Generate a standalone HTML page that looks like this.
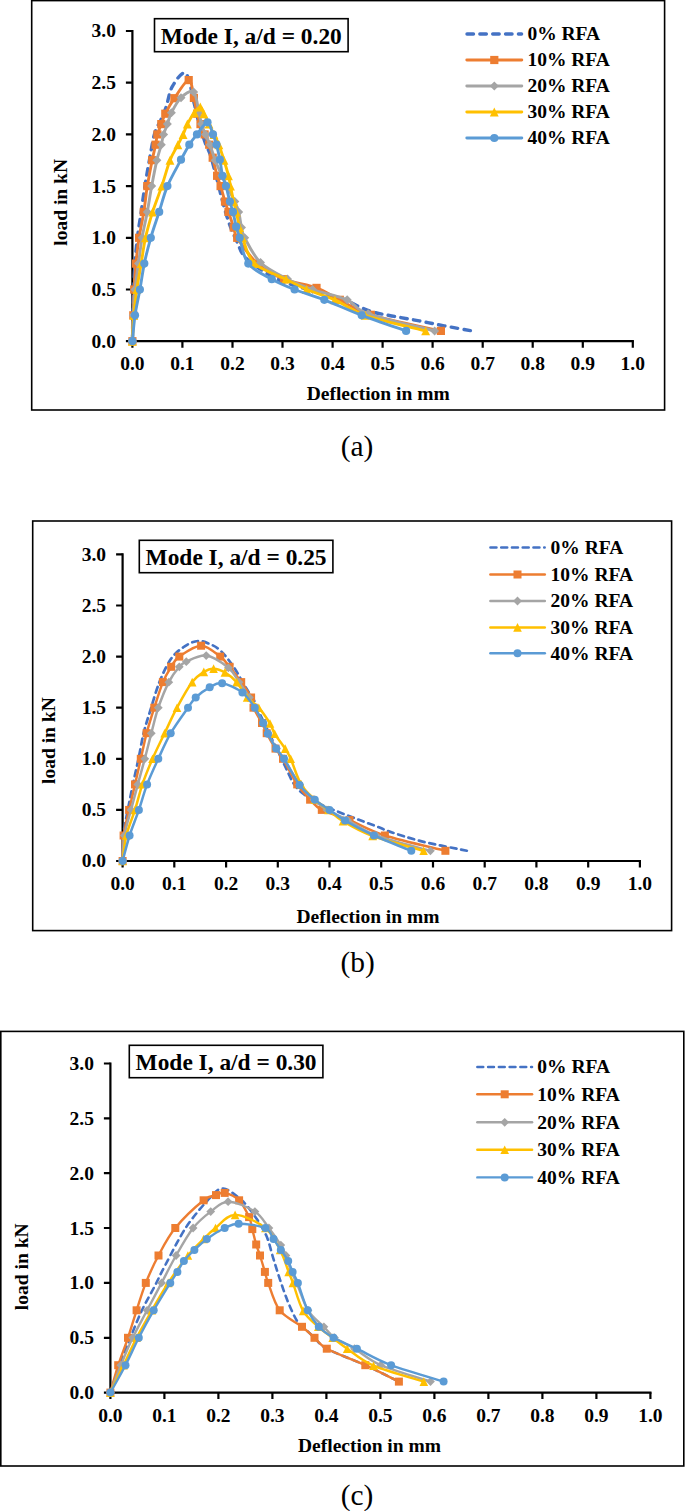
<!DOCTYPE html>
<html lang="en"><head><meta charset="utf-8"><title>Load-deflection curves</title>
<style>html,body{margin:0;padding:0;background:#fff}body{width:685px;height:1511px;overflow:hidden}svg{display:block}text{font-family:"Liberation Serif","Times New Roman",serif;font-weight:bold;fill:#000}</style></head><body>
<svg width="685" height="1511" viewBox="0 0 685 1511">
<rect width="685" height="1511" fill="#fff"/>
<g>
<rect x="31.7" y="0.6" width="632.9" height="409.4" fill="#fff" stroke="#000" stroke-width="1.60"/>
<path d="M132.4 31.0 V341.2 H632.8" fill="none" stroke="#000" stroke-width="2.20" stroke-linecap="square"/>
<path d="M132.4 341.2h-6.5M132.4 289.5h-6.5M132.4 237.8h-6.5M132.4 186.1h-6.5M132.4 134.4h-6.5M132.4 82.7h-6.5M132.4 31.0h-6.5M132.4 341.2v6.5M182.4 341.2v6.5M232.5 341.2v6.5M282.5 341.2v6.5M332.6 341.2v6.5M382.6 341.2v6.5M432.6 341.2v6.5M482.7 341.2v6.5M532.7 341.2v6.5M582.8 341.2v6.5M632.8 341.2v6.5" stroke="#000" stroke-width="2.20" fill="none"/>
<path d="M132.4 341.2C132.5 336.9 132.7 324.0 132.9 315.3C133.1 306.7 133.3 298.1 133.7 289.5C134.0 280.9 134.3 272.3 134.9 263.6C135.5 255.0 136.4 246.4 137.4 237.8C138.4 229.2 139.9 220.6 141.2 211.9C142.4 203.3 143.5 194.7 144.9 186.1C146.3 177.5 147.8 168.9 149.4 160.2C151.0 151.6 152.5 141.2 154.4 134.4C156.3 127.6 159.0 124.3 161.0 119.6C162.9 115.0 164.4 112.0 166.3 106.5C168.2 100.9 169.2 91.8 172.4 86.3C175.7 80.8 182.1 70.5 185.7 73.4C189.4 76.3 192.3 96.2 194.3 103.8C196.3 111.3 196.5 113.7 197.8 118.7C199.1 123.6 200.9 129.3 202.2 133.6C203.5 137.8 204.2 140.1 205.7 144.1C207.2 148.1 208.8 149.8 211.2 157.6C213.5 165.4 217.8 182.8 219.9 190.9C222.0 199.0 222.5 201.4 223.8 206.2C225.1 210.9 226.5 215.4 227.9 219.5C229.2 223.6 230.3 226.7 232.0 230.8C233.7 234.9 236.4 240.2 238.1 244.0C239.8 247.8 239.8 250.0 242.2 253.3C244.6 256.6 246.6 259.3 252.5 263.6C258.4 268.0 268.3 274.9 277.5 279.2C286.7 283.5 296.7 286.1 307.5 289.5C318.4 292.9 332.2 295.7 342.6 299.3C352.9 302.9 360.9 308.2 369.6 311.0C378.2 313.9 386.1 314.7 394.4 316.4C402.7 318.0 411.0 319.3 419.2 320.9C427.5 322.5 435.2 324.1 444.0 325.8C452.8 327.5 467.3 330.0 472.0 330.9" fill="none" stroke="#4472C4" stroke-width="3.40" stroke-linejoin="round" stroke-linecap="round" stroke-dasharray="6.5 6.35"/>
<path d="M132.4 341.2C132.6 336.9 133.0 324.0 133.3 315.3C133.6 306.7 133.7 298.1 134.2 289.5C134.6 280.9 135.1 272.3 135.9 263.6C136.7 255.0 137.7 246.4 139.1 237.8C140.4 229.2 142.4 220.6 143.8 211.9C145.2 203.3 145.9 194.7 147.3 186.1C148.7 177.5 150.8 167.1 152.2 160.2C153.6 153.4 154.7 149.0 155.6 144.7C156.5 140.4 156.5 137.8 157.4 134.4C158.4 131.0 160.0 127.5 161.3 124.1C162.6 120.6 163.1 118.0 165.3 113.7C167.5 109.4 170.5 103.8 174.4 98.2C178.3 92.6 185.5 80.2 188.7 80.1C192.0 80.1 192.5 92.3 193.9 97.9C195.3 103.5 196.1 109.4 197.2 113.7C198.3 118.1 199.3 120.6 200.5 124.1C201.7 127.5 203.2 131.0 204.6 134.4C206.1 137.8 207.9 140.9 209.2 144.7C210.6 148.6 211.4 152.5 212.7 157.7C214.0 162.8 215.7 171.0 217.1 175.8C218.4 180.5 219.3 181.8 220.6 186.1C221.9 190.4 223.7 197.3 225.0 201.6C226.3 205.9 227.0 207.6 228.5 211.9C229.9 216.3 232.3 223.2 233.7 227.5C235.2 231.8 233.3 231.8 237.2 237.8C241.2 243.8 249.7 256.8 257.5 263.6C265.3 270.5 274.2 275.1 284.0 279.2C293.9 283.2 307.3 284.5 316.5 287.9C325.8 291.4 330.7 295.4 339.8 299.8C348.8 304.3 353.9 309.7 370.8 314.8C387.7 320.0 429.3 328.2 440.9 330.9" fill="none" stroke="#ED7D31" stroke-width="2.90" stroke-linejoin="round" stroke-linecap="round"/>
<rect x="128.3" y="337.1" width="8.2" height="8.2" fill="#ED7D31"/>
<rect x="129.2" y="311.2" width="8.2" height="8.2" fill="#ED7D31"/>
<rect x="130.1" y="285.4" width="8.2" height="8.2" fill="#ED7D31"/>
<rect x="131.8" y="259.5" width="8.2" height="8.2" fill="#ED7D31"/>
<rect x="135.0" y="233.7" width="8.2" height="8.2" fill="#ED7D31"/>
<rect x="139.7" y="207.8" width="8.2" height="8.2" fill="#ED7D31"/>
<rect x="143.2" y="182.0" width="8.2" height="8.2" fill="#ED7D31"/>
<rect x="148.1" y="156.1" width="8.2" height="8.2" fill="#ED7D31"/>
<rect x="151.5" y="140.6" width="8.2" height="8.2" fill="#ED7D31"/>
<rect x="153.3" y="130.3" width="8.2" height="8.2" fill="#ED7D31"/>
<rect x="157.2" y="120.0" width="8.2" height="8.2" fill="#ED7D31"/>
<rect x="161.2" y="109.6" width="8.2" height="8.2" fill="#ED7D31"/>
<rect x="170.3" y="94.1" width="8.2" height="8.2" fill="#ED7D31"/>
<rect x="184.6" y="76.0" width="8.2" height="8.2" fill="#ED7D31"/>
<rect x="189.8" y="93.8" width="8.2" height="8.2" fill="#ED7D31"/>
<rect x="193.1" y="109.6" width="8.2" height="8.2" fill="#ED7D31"/>
<rect x="196.4" y="120.0" width="8.2" height="8.2" fill="#ED7D31"/>
<rect x="200.5" y="130.3" width="8.2" height="8.2" fill="#ED7D31"/>
<rect x="205.1" y="140.6" width="8.2" height="8.2" fill="#ED7D31"/>
<rect x="208.6" y="153.6" width="8.2" height="8.2" fill="#ED7D31"/>
<rect x="213.0" y="171.7" width="8.2" height="8.2" fill="#ED7D31"/>
<rect x="216.5" y="182.0" width="8.2" height="8.2" fill="#ED7D31"/>
<rect x="220.9" y="197.5" width="8.2" height="8.2" fill="#ED7D31"/>
<rect x="224.4" y="207.8" width="8.2" height="8.2" fill="#ED7D31"/>
<rect x="229.6" y="223.4" width="8.2" height="8.2" fill="#ED7D31"/>
<rect x="233.1" y="233.7" width="8.2" height="8.2" fill="#ED7D31"/>
<rect x="253.4" y="259.5" width="8.2" height="8.2" fill="#ED7D31"/>
<rect x="279.9" y="275.1" width="8.2" height="8.2" fill="#ED7D31"/>
<rect x="312.4" y="283.8" width="8.2" height="8.2" fill="#ED7D31"/>
<rect x="335.7" y="295.7" width="8.2" height="8.2" fill="#ED7D31"/>
<rect x="366.7" y="310.7" width="8.2" height="8.2" fill="#ED7D31"/>
<rect x="436.8" y="326.8" width="8.2" height="8.2" fill="#ED7D31"/>
<path d="M132.4 341.2C132.6 336.9 133.0 324.0 133.4 315.3C133.8 306.7 134.1 298.1 134.9 289.5C135.8 280.9 137.3 272.3 138.5 263.6C139.7 255.0 140.6 246.4 142.1 237.8C143.5 229.2 145.7 220.6 147.3 211.9C148.9 203.3 150.1 194.7 151.7 186.1C153.3 177.5 155.3 167.1 156.9 160.2C158.5 153.4 160.2 149.0 161.3 144.7C162.4 140.4 162.5 137.8 163.6 134.4C164.6 131.0 166.1 127.7 167.4 124.1C168.7 120.4 169.2 117.1 171.4 112.7C173.7 108.3 177.3 101.1 181.0 97.7C184.7 94.2 190.7 89.5 193.6 92.0C196.6 94.5 197.7 107.3 199.0 112.7C200.3 118.0 200.4 120.4 201.5 124.1C202.5 127.7 204.0 131.0 205.5 134.4C206.9 137.8 208.3 140.4 210.0 144.7C211.6 149.0 213.2 155.1 215.2 160.2C217.2 165.4 220.0 171.5 222.0 175.8C223.9 180.1 224.8 181.8 227.0 186.1C229.1 190.4 232.8 197.3 234.8 201.6C236.7 205.9 237.6 207.6 238.7 211.9C239.9 216.3 240.5 223.2 241.5 227.5C242.5 231.8 241.6 231.9 244.7 237.8C247.9 243.7 253.4 255.7 260.5 262.6C267.6 269.5 278.9 274.7 287.5 279.2C296.2 283.6 302.6 286.1 312.5 289.5C322.5 292.9 338.0 295.8 347.2 299.8C356.5 303.9 353.5 308.6 368.1 313.8C382.7 319.0 423.5 328.0 434.6 330.9" fill="none" stroke="#A5A5A5" stroke-width="2.90" stroke-linejoin="round" stroke-linecap="round"/>
<path d="M132.4 336.7 l4.5 4.5 l-4.5 4.5 l-4.5 -4.5z" fill="#A5A5A5"/>
<path d="M133.4 310.8 l4.5 4.5 l-4.5 4.5 l-4.5 -4.5z" fill="#A5A5A5"/>
<path d="M134.9 285.0 l4.5 4.5 l-4.5 4.5 l-4.5 -4.5z" fill="#A5A5A5"/>
<path d="M138.5 259.1 l4.5 4.5 l-4.5 4.5 l-4.5 -4.5z" fill="#A5A5A5"/>
<path d="M142.1 233.3 l4.5 4.5 l-4.5 4.5 l-4.5 -4.5z" fill="#A5A5A5"/>
<path d="M147.3 207.4 l4.5 4.5 l-4.5 4.5 l-4.5 -4.5z" fill="#A5A5A5"/>
<path d="M151.7 181.6 l4.5 4.5 l-4.5 4.5 l-4.5 -4.5z" fill="#A5A5A5"/>
<path d="M156.9 155.7 l4.5 4.5 l-4.5 4.5 l-4.5 -4.5z" fill="#A5A5A5"/>
<path d="M161.3 140.2 l4.5 4.5 l-4.5 4.5 l-4.5 -4.5z" fill="#A5A5A5"/>
<path d="M163.6 129.9 l4.5 4.5 l-4.5 4.5 l-4.5 -4.5z" fill="#A5A5A5"/>
<path d="M167.4 119.5 l4.5 4.5 l-4.5 4.5 l-4.5 -4.5z" fill="#A5A5A5"/>
<path d="M171.4 108.2 l4.5 4.5 l-4.5 4.5 l-4.5 -4.5z" fill="#A5A5A5"/>
<path d="M181.0 93.2 l4.5 4.5 l-4.5 4.5 l-4.5 -4.5z" fill="#A5A5A5"/>
<path d="M193.6 87.5 l4.5 4.5 l-4.5 4.5 l-4.5 -4.5z" fill="#A5A5A5"/>
<path d="M199.0 108.2 l4.5 4.5 l-4.5 4.5 l-4.5 -4.5z" fill="#A5A5A5"/>
<path d="M201.5 119.5 l4.5 4.5 l-4.5 4.5 l-4.5 -4.5z" fill="#A5A5A5"/>
<path d="M205.5 129.9 l4.5 4.5 l-4.5 4.5 l-4.5 -4.5z" fill="#A5A5A5"/>
<path d="M210.0 140.2 l4.5 4.5 l-4.5 4.5 l-4.5 -4.5z" fill="#A5A5A5"/>
<path d="M215.2 155.7 l4.5 4.5 l-4.5 4.5 l-4.5 -4.5z" fill="#A5A5A5"/>
<path d="M222.0 171.2 l4.5 4.5 l-4.5 4.5 l-4.5 -4.5z" fill="#A5A5A5"/>
<path d="M227.0 181.6 l4.5 4.5 l-4.5 4.5 l-4.5 -4.5z" fill="#A5A5A5"/>
<path d="M234.8 197.1 l4.5 4.5 l-4.5 4.5 l-4.5 -4.5z" fill="#A5A5A5"/>
<path d="M238.7 207.4 l4.5 4.5 l-4.5 4.5 l-4.5 -4.5z" fill="#A5A5A5"/>
<path d="M241.5 222.9 l4.5 4.5 l-4.5 4.5 l-4.5 -4.5z" fill="#A5A5A5"/>
<path d="M244.7 233.3 l4.5 4.5 l-4.5 4.5 l-4.5 -4.5z" fill="#A5A5A5"/>
<path d="M260.5 258.1 l4.5 4.5 l-4.5 4.5 l-4.5 -4.5z" fill="#A5A5A5"/>
<path d="M287.5 274.6 l4.5 4.5 l-4.5 4.5 l-4.5 -4.5z" fill="#A5A5A5"/>
<path d="M312.5 285.0 l4.5 4.5 l-4.5 4.5 l-4.5 -4.5z" fill="#A5A5A5"/>
<path d="M347.2 295.3 l4.5 4.5 l-4.5 4.5 l-4.5 -4.5z" fill="#A5A5A5"/>
<path d="M368.1 309.3 l4.5 4.5 l-4.5 4.5 l-4.5 -4.5z" fill="#A5A5A5"/>
<path d="M434.6 326.4 l4.5 4.5 l-4.5 4.5 l-4.5 -4.5z" fill="#A5A5A5"/>
<path d="M132.4 341.2C132.6 336.9 133.1 324.0 133.8 315.3C134.5 306.7 135.6 298.1 136.8 289.5C138.0 280.9 139.7 272.3 141.2 263.6C142.6 255.0 143.6 246.4 145.5 237.8C147.4 229.2 149.9 220.6 152.6 211.9C155.3 203.3 158.9 194.7 161.8 186.1C164.7 177.5 167.3 167.1 170.0 160.2C172.7 153.4 175.8 149.0 177.9 144.7C180.1 140.4 181.6 137.8 183.1 134.4C184.7 131.0 185.6 127.7 187.4 124.1C189.3 120.4 192.3 115.5 194.4 112.7C196.6 109.8 198.7 106.8 200.3 107.0C201.9 107.2 202.5 110.9 203.9 113.7C205.3 116.6 207.3 120.6 209.0 124.1C210.6 127.5 212.3 131.0 214.0 134.4C215.6 137.8 217.2 140.4 218.9 144.7C220.5 149.0 222.4 155.1 224.0 160.2C225.6 165.4 227.4 171.5 228.5 175.8C229.6 180.1 229.6 181.8 230.5 186.1C231.3 190.4 232.7 197.3 233.7 201.6C234.6 205.9 235.3 207.6 236.3 211.9C237.3 216.3 238.5 223.2 239.5 227.5C240.5 231.8 240.0 231.8 242.5 237.8C245.0 243.8 247.2 256.8 254.5 263.6C261.8 270.5 277.3 274.9 286.0 279.2C294.7 283.5 298.4 286.1 306.5 289.5C314.7 292.9 325.1 295.5 334.9 299.8C344.7 304.1 350.2 310.2 365.3 315.3C380.5 320.5 415.7 328.3 425.7 330.9" fill="none" stroke="#FFC000" stroke-width="2.90" stroke-linejoin="round" stroke-linecap="round"/>
<path d="M132.4 336.8 l4.4 8.9 h-8.9z" fill="#FFC000"/>
<path d="M133.8 310.9 l4.4 8.9 h-8.9z" fill="#FFC000"/>
<path d="M136.8 285.1 l4.4 8.9 h-8.9z" fill="#FFC000"/>
<path d="M141.2 259.2 l4.4 8.9 h-8.9z" fill="#FFC000"/>
<path d="M145.5 233.4 l4.4 8.9 h-8.9z" fill="#FFC000"/>
<path d="M152.6 207.5 l4.4 8.9 h-8.9z" fill="#FFC000"/>
<path d="M161.8 181.7 l4.4 8.9 h-8.9z" fill="#FFC000"/>
<path d="M170.0 155.8 l4.4 8.9 h-8.9z" fill="#FFC000"/>
<path d="M177.9 140.3 l4.4 8.9 h-8.9z" fill="#FFC000"/>
<path d="M183.1 130.0 l4.4 8.9 h-8.9z" fill="#FFC000"/>
<path d="M187.4 119.6 l4.4 8.9 h-8.9z" fill="#FFC000"/>
<path d="M194.4 108.3 l4.4 8.9 h-8.9z" fill="#FFC000"/>
<path d="M200.3 102.6 l4.4 8.9 h-8.9z" fill="#FFC000"/>
<path d="M203.9 109.3 l4.4 8.9 h-8.9z" fill="#FFC000"/>
<path d="M209.0 119.6 l4.4 8.9 h-8.9z" fill="#FFC000"/>
<path d="M214.0 130.0 l4.4 8.9 h-8.9z" fill="#FFC000"/>
<path d="M218.9 140.3 l4.4 8.9 h-8.9z" fill="#FFC000"/>
<path d="M224.0 155.8 l4.4 8.9 h-8.9z" fill="#FFC000"/>
<path d="M228.5 171.3 l4.4 8.9 h-8.9z" fill="#FFC000"/>
<path d="M230.5 181.7 l4.4 8.9 h-8.9z" fill="#FFC000"/>
<path d="M233.7 197.2 l4.4 8.9 h-8.9z" fill="#FFC000"/>
<path d="M236.3 207.5 l4.4 8.9 h-8.9z" fill="#FFC000"/>
<path d="M239.5 223.0 l4.4 8.9 h-8.9z" fill="#FFC000"/>
<path d="M242.5 233.4 l4.4 8.9 h-8.9z" fill="#FFC000"/>
<path d="M254.5 259.2 l4.4 8.9 h-8.9z" fill="#FFC000"/>
<path d="M286.0 274.7 l4.4 8.9 h-8.9z" fill="#FFC000"/>
<path d="M306.5 285.1 l4.4 8.9 h-8.9z" fill="#FFC000"/>
<path d="M334.9 295.4 l4.4 8.9 h-8.9z" fill="#FFC000"/>
<path d="M365.3 310.9 l4.4 8.9 h-8.9z" fill="#FFC000"/>
<path d="M425.7 326.4 l4.4 8.9 h-8.9z" fill="#FFC000"/>
<path d="M132.4 341.2C132.8 336.9 133.8 324.0 135.0 315.3C136.3 306.7 138.4 298.1 139.9 289.5C141.5 280.9 142.5 272.3 144.3 263.6C146.1 255.0 148.3 246.4 150.8 237.8C153.2 229.2 156.4 220.6 159.2 211.9C161.9 203.3 163.8 194.8 167.4 186.1C171.1 177.4 177.4 166.6 181.0 159.7C184.7 152.8 186.6 149.0 189.3 144.7C191.9 140.5 193.9 138.1 197.0 134.4C200.0 130.7 204.8 122.3 207.5 122.3C210.1 122.3 211.5 130.7 213.0 134.4C214.5 138.1 215.3 140.5 216.5 144.7C217.6 149.0 218.9 154.6 219.9 159.7C220.9 164.9 221.5 171.4 222.5 175.8C223.5 180.2 224.7 181.8 226.0 186.1C227.2 190.4 228.7 197.3 229.9 201.6C231.0 205.9 231.9 207.8 233.0 211.9C234.0 216.1 235.1 222.4 236.2 226.7C237.4 231.0 237.7 231.6 239.7 237.8C241.7 244.0 242.9 256.8 248.3 263.6C253.6 270.5 264.0 274.9 271.8 279.2C279.5 283.5 285.9 286.1 294.6 289.5C303.4 292.9 313.1 295.5 324.3 299.8C335.5 304.1 348.1 310.2 361.7 315.3C375.4 320.5 398.7 328.3 406.1 330.9" fill="none" stroke="#5B9BD5" stroke-width="2.90" stroke-linejoin="round" stroke-linecap="round"/>
<circle cx="132.4" cy="341.2" r="4.1" fill="#5B9BD5"/>
<circle cx="135.0" cy="315.3" r="4.1" fill="#5B9BD5"/>
<circle cx="139.9" cy="289.5" r="4.1" fill="#5B9BD5"/>
<circle cx="144.3" cy="263.6" r="4.1" fill="#5B9BD5"/>
<circle cx="150.8" cy="237.8" r="4.1" fill="#5B9BD5"/>
<circle cx="159.2" cy="211.9" r="4.1" fill="#5B9BD5"/>
<circle cx="167.4" cy="186.1" r="4.1" fill="#5B9BD5"/>
<circle cx="181.0" cy="159.7" r="4.1" fill="#5B9BD5"/>
<circle cx="189.3" cy="144.7" r="4.1" fill="#5B9BD5"/>
<circle cx="197.0" cy="134.4" r="4.1" fill="#5B9BD5"/>
<circle cx="207.5" cy="122.3" r="4.1" fill="#5B9BD5"/>
<circle cx="213.0" cy="134.4" r="4.1" fill="#5B9BD5"/>
<circle cx="216.5" cy="144.7" r="4.1" fill="#5B9BD5"/>
<circle cx="219.9" cy="159.7" r="4.1" fill="#5B9BD5"/>
<circle cx="222.5" cy="175.8" r="4.1" fill="#5B9BD5"/>
<circle cx="226.0" cy="186.1" r="4.1" fill="#5B9BD5"/>
<circle cx="229.9" cy="201.6" r="4.1" fill="#5B9BD5"/>
<circle cx="233.0" cy="211.9" r="4.1" fill="#5B9BD5"/>
<circle cx="236.2" cy="226.7" r="4.1" fill="#5B9BD5"/>
<circle cx="239.7" cy="237.8" r="4.1" fill="#5B9BD5"/>
<circle cx="248.3" cy="263.6" r="4.1" fill="#5B9BD5"/>
<circle cx="271.8" cy="279.2" r="4.1" fill="#5B9BD5"/>
<circle cx="294.6" cy="289.5" r="4.1" fill="#5B9BD5"/>
<circle cx="324.3" cy="299.8" r="4.1" fill="#5B9BD5"/>
<circle cx="361.7" cy="315.3" r="4.1" fill="#5B9BD5"/>
<circle cx="406.1" cy="330.9" r="4.1" fill="#5B9BD5"/>
<g font-size="19.5" text-anchor="end">
<text x="115.9" y="347.6">0.0</text>
<text x="115.9" y="295.9">0.5</text>
<text x="115.9" y="244.2">1.0</text>
<text x="115.9" y="192.5">1.5</text>
<text x="115.9" y="140.8">2.0</text>
<text x="115.9" y="89.1">2.5</text>
<text x="115.9" y="37.4">3.0</text>
</g>
<g font-size="19.5" text-anchor="middle">
<text x="132.4" y="370.3">0.0</text>
<text x="182.4" y="370.3">0.1</text>
<text x="232.5" y="370.3">0.2</text>
<text x="282.5" y="370.3">0.3</text>
<text x="332.6" y="370.3">0.4</text>
<text x="382.6" y="370.3">0.5</text>
<text x="432.6" y="370.3">0.6</text>
<text x="482.7" y="370.3">0.7</text>
<text x="532.7" y="370.3">0.8</text>
<text x="582.8" y="370.3">0.9</text>
<text x="632.8" y="370.3">1.0</text>
</g>
<text x="378.2" y="399.5" font-size="19.5" text-anchor="middle">Deflection in mm</text>
<text transform="translate(67.0 202.4) rotate(-90)" font-size="19.5" text-anchor="middle">load in kN</text>
<rect x="154.5" y="18.7" width="193.6" height="33.0" fill="#fff" stroke="#000" stroke-width="1.6"/>
<text x="251.3" y="43.7" font-size="23.4" text-anchor="middle">Mode I, a/d = 0.20</text>
<path d="M467.0 34.0H521.6" stroke="#4472C4" stroke-width="3.40" stroke-linecap="round" stroke-dasharray="6.5 6.35"/>
<text x="527.4" y="40.4" font-size="19.5">0% RFA</text>
<path d="M466.8 60.0H521.8" stroke="#ED7D31" stroke-width="2.90" stroke-linecap="round"/>
<rect x="490.2" y="55.9" width="8.2" height="8.2" fill="#ED7D31"/>
<text x="527.4" y="66.4" font-size="19.5">10% RFA</text>
<path d="M466.8 86.0H521.8" stroke="#A5A5A5" stroke-width="2.90" stroke-linecap="round"/>
<path d="M494.3 81.5 l4.5 4.5 l-4.5 4.5 l-4.5 -4.5z" fill="#A5A5A5"/>
<text x="527.4" y="92.4" font-size="19.5">20% RFA</text>
<path d="M466.8 112.0H521.8" stroke="#FFC000" stroke-width="2.90" stroke-linecap="round"/>
<path d="M494.3 107.6 l4.4 8.9 h-8.9z" fill="#FFC000"/>
<text x="527.4" y="118.4" font-size="19.5">30% RFA</text>
<path d="M466.8 138.0H521.8" stroke="#5B9BD5" stroke-width="2.90" stroke-linecap="round"/>
<circle cx="494.3" cy="138.0" r="4.1" fill="#5B9BD5"/>
<text x="527.4" y="144.4" font-size="19.5">40% RFA</text>
<text x="357.0" y="456.2" font-size="29.4" style="font-weight:normal" text-anchor="middle">(a)</text>
</g>
<g>
<rect x="32.7" y="521.0" width="638.9" height="409.6" fill="#fff" stroke="#000" stroke-width="1.60"/>
<path d="M122.6 554.4 V861.0 H639.9" fill="none" stroke="#000" stroke-width="2.20" stroke-linecap="square"/>
<path d="M122.6 861.0h-6.5M122.6 809.9h-6.5M122.6 758.8h-6.5M122.6 707.7h-6.5M122.6 656.6h-6.5M122.6 605.5h-6.5M122.6 554.4h-6.5M122.6 861.0v6.5M174.3 861.0v6.5M226.1 861.0v6.5M277.8 861.0v6.5M329.5 861.0v6.5M381.2 861.0v6.5M433.0 861.0v6.5M484.7 861.0v6.5M536.4 861.0v6.5M588.2 861.0v6.5M639.9 861.0v6.5" stroke="#000" stroke-width="2.20" fill="none"/>
<path d="M122.6 861.0C122.7 856.7 122.5 844.0 123.4 835.5C124.2 826.9 126.2 818.4 127.8 809.9C129.4 801.4 131.2 792.9 132.9 784.4C134.7 775.8 136.7 767.3 138.5 758.8C140.3 750.3 141.7 741.2 143.6 733.2C145.5 725.3 147.5 719.6 150.1 711.1C152.8 702.5 156.0 690.7 159.5 681.9C163.0 673.2 167.0 664.6 171.2 658.6C175.4 652.7 180.2 649.3 184.7 646.4C189.1 643.4 193.7 641.3 198.0 641.0C202.3 640.6 206.6 642.6 210.5 644.3C214.4 646.1 217.5 647.6 221.4 651.5C225.3 655.4 230.1 661.8 234.2 667.8C238.3 673.9 242.7 682.5 245.9 687.8C249.1 693.1 251.0 694.8 253.5 699.5C256.0 704.3 257.8 709.5 261.0 716.3C264.2 723.1 268.6 732.1 272.6 740.4C276.6 748.7 282.2 760.0 285.0 766.0C287.9 771.9 288.3 773.1 289.7 775.9C291.0 778.7 291.1 780.0 293.2 782.8C295.2 785.6 297.6 789.3 301.9 792.8C306.3 796.3 312.8 800.5 319.2 803.8C325.6 807.1 333.4 809.8 340.5 812.7C347.6 815.5 355.0 818.3 361.6 820.8C368.2 823.4 375.7 826.0 380.2 827.8C384.8 829.5 381.8 829.1 388.9 831.4C395.9 833.7 409.6 838.3 422.6 841.6C435.7 844.8 459.7 849.2 467.1 850.8" fill="none" stroke="#4472C4" stroke-width="2.70" stroke-linejoin="round" stroke-linecap="round" stroke-dasharray="5.9 4.85"/>
<path d="M122.6 861.0C122.8 856.7 122.5 844.0 123.6 835.5C124.7 826.9 127.2 818.4 129.1 809.9C131.0 801.4 133.1 792.9 135.0 784.4C137.0 775.8 138.9 767.3 140.8 758.8C142.7 750.3 144.4 741.8 146.6 733.2C148.9 724.7 151.6 716.2 154.3 707.7C157.0 699.2 160.1 689.0 162.9 682.1C165.8 675.3 168.5 671.1 171.2 666.8C174.0 662.6 174.3 660.1 179.3 656.6C184.3 653.1 194.3 645.7 201.1 645.7C207.9 645.7 215.5 653.1 220.2 656.6C225.0 660.1 226.1 662.6 229.6 666.8C233.1 671.1 237.6 677.0 241.2 682.1C244.8 687.3 249.1 693.2 251.1 697.5C253.1 701.7 251.7 703.4 253.5 707.7C255.3 712.0 259.8 718.8 262.0 723.0C264.2 727.3 264.4 729.0 266.7 733.2C268.9 737.5 272.7 744.3 275.5 748.6C278.2 752.8 279.3 752.8 283.0 758.8C286.6 764.8 292.7 777.5 297.2 784.4C301.8 791.2 306.0 795.4 310.1 799.7C314.2 803.9 315.2 806.5 321.8 809.9C328.3 813.3 339.0 815.9 349.5 820.1C360.0 824.4 368.9 830.3 384.9 835.5C400.9 840.6 435.3 848.2 445.4 850.8" fill="none" stroke="#ED7D31" stroke-width="2.50" stroke-linejoin="round" stroke-linecap="round"/>
<rect x="118.6" y="857.0" width="8.0" height="8.0" fill="#ED7D31"/>
<rect x="119.6" y="831.5" width="8.0" height="8.0" fill="#ED7D31"/>
<rect x="125.1" y="805.9" width="8.0" height="8.0" fill="#ED7D31"/>
<rect x="131.0" y="780.4" width="8.0" height="8.0" fill="#ED7D31"/>
<rect x="136.8" y="754.8" width="8.0" height="8.0" fill="#ED7D31"/>
<rect x="142.6" y="729.2" width="8.0" height="8.0" fill="#ED7D31"/>
<rect x="150.3" y="703.7" width="8.0" height="8.0" fill="#ED7D31"/>
<rect x="158.9" y="678.1" width="8.0" height="8.0" fill="#ED7D31"/>
<rect x="167.2" y="662.8" width="8.0" height="8.0" fill="#ED7D31"/>
<rect x="175.3" y="652.6" width="8.0" height="8.0" fill="#ED7D31"/>
<rect x="197.1" y="641.7" width="8.0" height="8.0" fill="#ED7D31"/>
<rect x="216.2" y="652.6" width="8.0" height="8.0" fill="#ED7D31"/>
<rect x="225.6" y="662.8" width="8.0" height="8.0" fill="#ED7D31"/>
<rect x="237.2" y="678.1" width="8.0" height="8.0" fill="#ED7D31"/>
<rect x="247.1" y="693.5" width="8.0" height="8.0" fill="#ED7D31"/>
<rect x="249.5" y="703.7" width="8.0" height="8.0" fill="#ED7D31"/>
<rect x="258.0" y="719.0" width="8.0" height="8.0" fill="#ED7D31"/>
<rect x="262.7" y="729.2" width="8.0" height="8.0" fill="#ED7D31"/>
<rect x="271.5" y="744.6" width="8.0" height="8.0" fill="#ED7D31"/>
<rect x="279.0" y="754.8" width="8.0" height="8.0" fill="#ED7D31"/>
<rect x="293.2" y="780.4" width="8.0" height="8.0" fill="#ED7D31"/>
<rect x="306.1" y="795.7" width="8.0" height="8.0" fill="#ED7D31"/>
<rect x="317.8" y="805.9" width="8.0" height="8.0" fill="#ED7D31"/>
<rect x="345.5" y="816.1" width="8.0" height="8.0" fill="#ED7D31"/>
<rect x="380.9" y="831.5" width="8.0" height="8.0" fill="#ED7D31"/>
<rect x="441.4" y="846.8" width="8.0" height="8.0" fill="#ED7D31"/>
<path d="M122.6 861.0C122.9 856.7 123.0 844.0 124.4 835.5C125.8 826.9 128.7 818.4 131.0 809.9C133.2 801.4 135.5 792.9 137.8 784.4C140.1 775.8 142.5 767.3 144.8 758.8C147.0 750.3 149.1 741.8 151.3 733.2C153.6 724.7 155.4 716.2 158.3 707.7C161.2 699.2 165.3 689.0 168.8 682.1C172.3 675.3 176.4 670.2 179.3 666.8C182.2 663.4 181.8 663.6 186.3 661.7C190.8 659.8 199.2 654.6 206.2 655.6C213.2 656.6 222.9 663.4 228.4 667.8C233.9 672.3 235.5 677.2 239.0 682.1C242.5 687.1 246.7 693.2 249.3 697.5C252.0 701.7 252.5 703.4 254.8 707.7C257.1 712.0 260.9 718.8 263.1 723.0C265.3 727.3 265.7 729.0 268.0 733.2C270.2 737.5 273.8 744.3 276.5 748.6C279.2 752.8 280.1 752.8 284.0 758.8C287.9 764.8 294.6 777.5 299.6 784.4C304.6 791.2 309.4 795.4 314.0 799.7C318.6 803.9 321.3 806.5 326.9 809.9C332.5 813.3 339.4 815.9 347.6 820.1C355.8 824.4 362.3 830.3 376.1 835.5C389.9 840.6 421.3 848.2 430.4 850.8" fill="none" stroke="#A5A5A5" stroke-width="2.50" stroke-linejoin="round" stroke-linecap="round"/>
<path d="M122.6 856.6 l4.4 4.4 l-4.4 4.4 l-4.4 -4.4z" fill="#A5A5A5"/>
<path d="M124.4 831.1 l4.4 4.4 l-4.4 4.4 l-4.4 -4.4z" fill="#A5A5A5"/>
<path d="M131.0 805.5 l4.4 4.4 l-4.4 4.4 l-4.4 -4.4z" fill="#A5A5A5"/>
<path d="M137.8 780.0 l4.4 4.4 l-4.4 4.4 l-4.4 -4.4z" fill="#A5A5A5"/>
<path d="M144.8 754.4 l4.4 4.4 l-4.4 4.4 l-4.4 -4.4z" fill="#A5A5A5"/>
<path d="M151.3 728.9 l4.4 4.4 l-4.4 4.4 l-4.4 -4.4z" fill="#A5A5A5"/>
<path d="M158.3 703.3 l4.4 4.4 l-4.4 4.4 l-4.4 -4.4z" fill="#A5A5A5"/>
<path d="M168.8 677.8 l4.4 4.4 l-4.4 4.4 l-4.4 -4.4z" fill="#A5A5A5"/>
<path d="M179.3 662.4 l4.4 4.4 l-4.4 4.4 l-4.4 -4.4z" fill="#A5A5A5"/>
<path d="M186.3 657.3 l4.4 4.4 l-4.4 4.4 l-4.4 -4.4z" fill="#A5A5A5"/>
<path d="M206.2 651.2 l4.4 4.4 l-4.4 4.4 l-4.4 -4.4z" fill="#A5A5A5"/>
<path d="M228.4 663.4 l4.4 4.4 l-4.4 4.4 l-4.4 -4.4z" fill="#A5A5A5"/>
<path d="M239.0 677.8 l4.4 4.4 l-4.4 4.4 l-4.4 -4.4z" fill="#A5A5A5"/>
<path d="M249.3 693.1 l4.4 4.4 l-4.4 4.4 l-4.4 -4.4z" fill="#A5A5A5"/>
<path d="M254.8 703.3 l4.4 4.4 l-4.4 4.4 l-4.4 -4.4z" fill="#A5A5A5"/>
<path d="M263.1 718.6 l4.4 4.4 l-4.4 4.4 l-4.4 -4.4z" fill="#A5A5A5"/>
<path d="M268.0 728.9 l4.4 4.4 l-4.4 4.4 l-4.4 -4.4z" fill="#A5A5A5"/>
<path d="M276.5 744.2 l4.4 4.4 l-4.4 4.4 l-4.4 -4.4z" fill="#A5A5A5"/>
<path d="M284.0 754.4 l4.4 4.4 l-4.4 4.4 l-4.4 -4.4z" fill="#A5A5A5"/>
<path d="M299.6 780.0 l4.4 4.4 l-4.4 4.4 l-4.4 -4.4z" fill="#A5A5A5"/>
<path d="M314.0 795.3 l4.4 4.4 l-4.4 4.4 l-4.4 -4.4z" fill="#A5A5A5"/>
<path d="M326.9 805.5 l4.4 4.4 l-4.4 4.4 l-4.4 -4.4z" fill="#A5A5A5"/>
<path d="M347.6 815.7 l4.4 4.4 l-4.4 4.4 l-4.4 -4.4z" fill="#A5A5A5"/>
<path d="M376.1 831.1 l4.4 4.4 l-4.4 4.4 l-4.4 -4.4z" fill="#A5A5A5"/>
<path d="M430.4 846.4 l4.4 4.4 l-4.4 4.4 l-4.4 -4.4z" fill="#A5A5A5"/>
<path d="M122.6 861.0C123.2 856.7 124.3 844.0 126.3 835.5C128.4 826.9 132.3 818.4 135.0 809.9C137.7 801.4 139.5 792.9 142.4 784.4C145.3 775.8 148.8 767.3 152.5 758.8C156.2 750.3 160.5 741.8 164.6 733.2C168.7 724.7 172.4 716.2 177.0 707.7C181.6 699.2 187.7 688.1 192.2 682.1C196.7 676.2 200.2 674.2 203.8 671.9C207.4 669.7 210.1 668.6 213.6 668.7C217.2 668.7 221.1 670.2 224.9 672.4C228.7 674.7 232.9 678.0 236.6 682.1C240.3 686.3 243.4 693.2 247.1 697.5C250.8 701.7 254.9 703.4 258.8 707.7C262.6 712.0 267.3 719.2 270.0 723.5C272.6 727.9 272.2 729.6 274.7 733.8C277.2 737.9 282.5 744.4 285.2 748.6C287.9 752.8 288.1 752.8 290.7 758.8C293.4 764.8 297.0 777.5 301.1 784.4C305.1 791.2 310.5 795.4 315.0 799.7C319.6 803.9 323.8 806.3 328.5 809.9C333.1 813.5 335.6 816.8 343.0 821.1C350.3 825.5 359.2 831.0 372.6 836.0C386.0 840.9 415.1 848.3 423.6 850.8" fill="none" stroke="#FFC000" stroke-width="2.50" stroke-linejoin="round" stroke-linecap="round"/>
<path d="M122.6 856.7 l4.3 8.6 h-8.6z" fill="#FFC000"/>
<path d="M126.3 831.1 l4.3 8.6 h-8.6z" fill="#FFC000"/>
<path d="M135.0 805.6 l4.3 8.6 h-8.6z" fill="#FFC000"/>
<path d="M142.4 780.0 l4.3 8.6 h-8.6z" fill="#FFC000"/>
<path d="M152.5 754.5 l4.3 8.6 h-8.6z" fill="#FFC000"/>
<path d="M164.6 728.9 l4.3 8.6 h-8.6z" fill="#FFC000"/>
<path d="M177.0 703.4 l4.3 8.6 h-8.6z" fill="#FFC000"/>
<path d="M192.2 677.8 l4.3 8.6 h-8.6z" fill="#FFC000"/>
<path d="M203.8 667.6 l4.3 8.6 h-8.6z" fill="#FFC000"/>
<path d="M213.6 664.3 l4.3 8.6 h-8.6z" fill="#FFC000"/>
<path d="M224.9 668.1 l4.3 8.6 h-8.6z" fill="#FFC000"/>
<path d="M236.6 677.8 l4.3 8.6 h-8.6z" fill="#FFC000"/>
<path d="M247.1 693.2 l4.3 8.6 h-8.6z" fill="#FFC000"/>
<path d="M258.8 703.4 l4.3 8.6 h-8.6z" fill="#FFC000"/>
<path d="M270.0 719.2 l4.3 8.6 h-8.6z" fill="#FFC000"/>
<path d="M274.7 729.4 l4.3 8.6 h-8.6z" fill="#FFC000"/>
<path d="M285.2 744.3 l4.3 8.6 h-8.6z" fill="#FFC000"/>
<path d="M290.7 754.5 l4.3 8.6 h-8.6z" fill="#FFC000"/>
<path d="M301.1 780.0 l4.3 8.6 h-8.6z" fill="#FFC000"/>
<path d="M315.0 795.4 l4.3 8.6 h-8.6z" fill="#FFC000"/>
<path d="M328.5 805.6 l4.3 8.6 h-8.6z" fill="#FFC000"/>
<path d="M343.0 816.8 l4.3 8.6 h-8.6z" fill="#FFC000"/>
<path d="M372.6 831.6 l4.3 8.6 h-8.6z" fill="#FFC000"/>
<path d="M423.6 846.5 l4.3 8.6 h-8.6z" fill="#FFC000"/>
<path d="M122.6 861.0C123.8 856.7 126.9 844.0 129.6 835.5C132.3 826.9 136.0 818.4 138.9 809.9C141.8 801.4 143.9 792.9 147.1 784.4C150.4 775.8 154.4 767.3 158.3 758.8C162.2 750.3 165.8 741.8 170.7 733.2C175.7 724.7 183.8 713.7 188.0 707.7C192.2 701.7 192.1 700.9 195.7 697.5C199.3 694.1 205.3 689.6 209.7 687.3C214.1 684.9 216.6 682.3 222.1 683.2C227.5 684.0 236.9 688.3 242.4 692.4C247.8 696.5 251.3 702.6 254.8 707.7C258.2 712.8 260.9 718.7 263.1 723.0C265.3 727.4 265.7 729.5 267.9 733.8C270.0 738.0 273.5 744.4 276.2 748.6C278.9 752.8 280.1 752.8 284.0 758.8C287.9 764.8 294.5 778.0 299.6 784.9C304.7 791.7 309.8 795.5 314.8 799.7C319.8 803.9 324.5 806.4 329.5 809.9C334.6 813.4 337.6 816.4 345.0 820.6C352.4 824.9 362.9 830.4 373.9 835.5C384.9 840.5 405.0 848.2 411.3 850.8" fill="none" stroke="#5B9BD5" stroke-width="2.50" stroke-linejoin="round" stroke-linecap="round"/>
<circle cx="122.6" cy="861.0" r="4.0" fill="#5B9BD5"/>
<circle cx="129.6" cy="835.5" r="4.0" fill="#5B9BD5"/>
<circle cx="138.9" cy="809.9" r="4.0" fill="#5B9BD5"/>
<circle cx="147.1" cy="784.4" r="4.0" fill="#5B9BD5"/>
<circle cx="158.3" cy="758.8" r="4.0" fill="#5B9BD5"/>
<circle cx="170.7" cy="733.2" r="4.0" fill="#5B9BD5"/>
<circle cx="188.0" cy="707.7" r="4.0" fill="#5B9BD5"/>
<circle cx="195.7" cy="697.5" r="4.0" fill="#5B9BD5"/>
<circle cx="209.7" cy="687.3" r="4.0" fill="#5B9BD5"/>
<circle cx="222.1" cy="683.2" r="4.0" fill="#5B9BD5"/>
<circle cx="242.4" cy="692.4" r="4.0" fill="#5B9BD5"/>
<circle cx="254.8" cy="707.7" r="4.0" fill="#5B9BD5"/>
<circle cx="263.1" cy="723.0" r="4.0" fill="#5B9BD5"/>
<circle cx="267.9" cy="733.8" r="4.0" fill="#5B9BD5"/>
<circle cx="276.2" cy="748.6" r="4.0" fill="#5B9BD5"/>
<circle cx="284.0" cy="758.8" r="4.0" fill="#5B9BD5"/>
<circle cx="299.6" cy="784.9" r="4.0" fill="#5B9BD5"/>
<circle cx="314.8" cy="799.7" r="4.0" fill="#5B9BD5"/>
<circle cx="329.5" cy="809.9" r="4.0" fill="#5B9BD5"/>
<circle cx="345.0" cy="820.6" r="4.0" fill="#5B9BD5"/>
<circle cx="373.9" cy="835.5" r="4.0" fill="#5B9BD5"/>
<circle cx="411.3" cy="850.8" r="4.0" fill="#5B9BD5"/>
<g font-size="19.5" text-anchor="end">
<text x="106.1" y="867.4">0.0</text>
<text x="106.1" y="816.3">0.5</text>
<text x="106.1" y="765.2">1.0</text>
<text x="106.1" y="714.1">1.5</text>
<text x="106.1" y="663.0">2.0</text>
<text x="106.1" y="611.9">2.5</text>
<text x="106.1" y="560.8">3.0</text>
</g>
<g font-size="19.5" text-anchor="middle">
<text x="122.6" y="889.5">0.0</text>
<text x="174.3" y="889.5">0.1</text>
<text x="226.1" y="889.5">0.2</text>
<text x="277.8" y="889.5">0.3</text>
<text x="329.5" y="889.5">0.4</text>
<text x="381.2" y="889.5">0.5</text>
<text x="433.0" y="889.5">0.6</text>
<text x="484.7" y="889.5">0.7</text>
<text x="536.4" y="889.5">0.8</text>
<text x="588.2" y="889.5">0.9</text>
<text x="639.9" y="889.5">1.0</text>
</g>
<text x="368.0" y="923.4" font-size="19.5" text-anchor="middle">Deflection in mm</text>
<text transform="translate(54.5 740.6) rotate(-90)" font-size="19.5" text-anchor="middle">load in kN</text>
<rect x="139.3" y="540.3" width="193.6" height="32.4" fill="#fff" stroke="#000" stroke-width="1.6"/>
<text x="236.1" y="564.7" font-size="23.4" text-anchor="middle">Mode I, a/d = 0.25</text>
<path d="M490.5 547.5H544.6" stroke="#4472C4" stroke-width="2.70" stroke-linecap="round" stroke-dasharray="5.9 4.85"/>
<text x="550.6" y="553.9" font-size="19.5">0% RFA</text>
<path d="M490.4 574.5H544.8" stroke="#ED7D31" stroke-width="2.50" stroke-linecap="round"/>
<rect x="513.5" y="570.5" width="8.0" height="8.0" fill="#ED7D31"/>
<text x="550.6" y="580.9" font-size="19.5">10% RFA</text>
<path d="M490.4 601.0H544.8" stroke="#A5A5A5" stroke-width="2.50" stroke-linecap="round"/>
<path d="M517.5 596.6 l4.4 4.4 l-4.4 4.4 l-4.4 -4.4z" fill="#A5A5A5"/>
<text x="550.6" y="607.4" font-size="19.5">20% RFA</text>
<path d="M490.4 627.4H544.8" stroke="#FFC000" stroke-width="2.50" stroke-linecap="round"/>
<path d="M517.5 623.1 l4.3 8.6 h-8.6z" fill="#FFC000"/>
<text x="550.6" y="633.8" font-size="19.5">30% RFA</text>
<path d="M490.4 653.3H544.8" stroke="#5B9BD5" stroke-width="2.50" stroke-linecap="round"/>
<circle cx="517.5" cy="653.3" r="4.0" fill="#5B9BD5"/>
<text x="550.6" y="659.7" font-size="19.5">40% RFA</text>
<text x="357.7" y="972.0" font-size="29.4" style="font-weight:normal" text-anchor="middle">(b)</text>
</g>
<g>
<rect x="0.8" y="1031.4" width="683.0" height="434.6" fill="#fff" stroke="#000" stroke-width="1.60"/>
<path d="M110.4 1063.5 V1392.6 H650.4" fill="none" stroke="#000" stroke-width="2.20" stroke-linecap="square"/>
<path d="M110.4 1392.6h-6.5M110.4 1337.8h-6.5M110.4 1282.9h-6.5M110.4 1228.0h-6.5M110.4 1173.2h-6.5M110.4 1118.3h-6.5M110.4 1063.5h-6.5M110.4 1392.6v6.5M164.4 1392.6v6.5M218.4 1392.6v6.5M272.4 1392.6v6.5M326.4 1392.6v6.5M380.4 1392.6v6.5M434.4 1392.6v6.5M488.4 1392.6v6.5M542.4 1392.6v6.5M596.4 1392.6v6.5M650.4 1392.6v6.5" stroke="#000" stroke-width="2.20" fill="none"/>
<path d="M110.4 1392.6C111.9 1388.0 116.3 1374.3 119.6 1365.2C122.9 1356.0 126.7 1346.9 130.4 1337.8C134.1 1328.6 137.8 1319.0 141.9 1310.3C146.0 1301.6 151.1 1293.2 155.0 1285.6C158.9 1278.0 160.2 1274.5 165.5 1264.7C170.7 1254.9 179.1 1237.8 186.5 1226.6C194.0 1215.5 204.1 1204.0 210.2 1197.7C216.3 1191.3 218.0 1188.1 223.3 1188.6C228.5 1189.0 236.3 1195.4 241.7 1200.3C247.2 1205.2 251.8 1211.8 255.9 1217.7C260.0 1223.7 263.6 1229.5 266.5 1236.1C269.3 1242.6 270.8 1250.1 272.9 1257.1C275.1 1264.1 277.1 1270.9 279.5 1278.1C281.9 1285.3 284.6 1293.4 287.4 1300.5C290.3 1307.5 293.7 1315.5 296.6 1320.2C299.5 1324.9 301.8 1325.5 304.8 1328.4C307.8 1331.4 310.8 1334.4 314.5 1337.8C318.2 1341.1 318.4 1344.1 326.8 1348.7C335.3 1353.3 353.3 1359.7 365.3 1365.2C377.3 1370.7 393.3 1378.9 398.9 1381.6" fill="none" stroke="#4472C4" stroke-width="2.60" stroke-linejoin="round" stroke-linecap="round" stroke-dasharray="5.8 4.95"/>
<path d="M110.4 1392.6C111.7 1388.0 115.3 1374.3 118.2 1365.2C121.2 1356.0 124.9 1346.9 128.0 1337.8C131.0 1328.6 133.7 1319.5 136.6 1310.3C139.6 1301.2 142.2 1292.0 145.8 1282.9C149.5 1273.8 153.6 1264.6 158.5 1255.5C163.4 1246.3 167.7 1237.2 175.3 1228.0C182.8 1218.9 196.8 1205.8 203.6 1200.3C210.4 1194.8 212.5 1196.4 216.0 1195.1C219.5 1193.9 220.8 1192.1 224.7 1192.9C228.5 1193.8 235.0 1196.3 239.1 1200.3C243.2 1204.3 246.9 1212.3 249.1 1217.1C251.3 1221.9 251.1 1224.6 252.3 1229.1C253.4 1233.7 254.9 1240.1 256.2 1244.5C257.5 1248.9 258.5 1250.9 260.0 1255.5C261.4 1260.0 263.6 1267.4 264.9 1271.9C266.3 1276.5 265.7 1276.5 268.2 1282.9C270.6 1289.3 274.1 1303.0 279.7 1310.3C285.3 1317.6 296.2 1322.2 302.0 1326.8C307.8 1331.4 310.4 1334.1 314.5 1337.8C318.7 1341.4 318.4 1344.1 326.8 1348.7C335.3 1353.3 353.3 1359.7 365.3 1365.2C377.3 1370.7 393.3 1378.9 398.9 1381.6" fill="none" stroke="#ED7D31" stroke-width="2.40" stroke-linejoin="round" stroke-linecap="round"/>
<rect x="106.4" y="1388.6" width="8.0" height="8.0" fill="#ED7D31"/>
<rect x="114.2" y="1361.2" width="8.0" height="8.0" fill="#ED7D31"/>
<rect x="124.0" y="1333.8" width="8.0" height="8.0" fill="#ED7D31"/>
<rect x="132.6" y="1306.3" width="8.0" height="8.0" fill="#ED7D31"/>
<rect x="141.8" y="1278.9" width="8.0" height="8.0" fill="#ED7D31"/>
<rect x="154.5" y="1251.5" width="8.0" height="8.0" fill="#ED7D31"/>
<rect x="171.3" y="1224.0" width="8.0" height="8.0" fill="#ED7D31"/>
<rect x="199.6" y="1196.3" width="8.0" height="8.0" fill="#ED7D31"/>
<rect x="212.0" y="1191.1" width="8.0" height="8.0" fill="#ED7D31"/>
<rect x="220.7" y="1188.9" width="8.0" height="8.0" fill="#ED7D31"/>
<rect x="235.1" y="1196.3" width="8.0" height="8.0" fill="#ED7D31"/>
<rect x="245.1" y="1213.1" width="8.0" height="8.0" fill="#ED7D31"/>
<rect x="248.3" y="1225.1" width="8.0" height="8.0" fill="#ED7D31"/>
<rect x="252.2" y="1240.5" width="8.0" height="8.0" fill="#ED7D31"/>
<rect x="256.0" y="1251.5" width="8.0" height="8.0" fill="#ED7D31"/>
<rect x="260.9" y="1267.9" width="8.0" height="8.0" fill="#ED7D31"/>
<rect x="264.2" y="1278.9" width="8.0" height="8.0" fill="#ED7D31"/>
<rect x="275.7" y="1306.3" width="8.0" height="8.0" fill="#ED7D31"/>
<rect x="298.0" y="1322.8" width="8.0" height="8.0" fill="#ED7D31"/>
<rect x="310.5" y="1333.8" width="8.0" height="8.0" fill="#ED7D31"/>
<rect x="322.8" y="1344.7" width="8.0" height="8.0" fill="#ED7D31"/>
<rect x="361.3" y="1361.2" width="8.0" height="8.0" fill="#ED7D31"/>
<rect x="394.9" y="1377.6" width="8.0" height="8.0" fill="#ED7D31"/>
<path d="M110.4 1392.6C112.1 1388.0 117.2 1374.3 120.9 1365.2C124.6 1356.0 128.3 1346.9 132.7 1337.8C137.1 1328.6 142.3 1319.5 147.1 1310.3C151.9 1301.2 156.8 1292.0 161.6 1282.9C166.4 1273.8 170.8 1264.6 176.1 1255.5C181.3 1246.3 187.4 1235.4 193.1 1228.0C198.9 1220.7 204.9 1216.0 210.7 1211.6C216.6 1207.2 220.8 1201.7 228.1 1201.7C235.5 1201.7 248.1 1207.2 254.9 1211.6C261.6 1216.0 264.6 1222.5 268.9 1228.0C273.2 1233.6 278.0 1240.5 280.8 1245.1C283.7 1249.6 284.2 1251.0 285.9 1255.5C287.6 1260.0 289.5 1267.4 291.3 1271.9C293.1 1276.5 293.9 1276.5 296.7 1282.9C299.5 1289.3 303.5 1303.0 308.0 1310.3C312.6 1317.6 319.5 1322.2 323.9 1326.8C328.3 1331.4 329.4 1334.1 334.5 1337.8C339.6 1341.4 346.8 1344.1 354.5 1348.7C362.2 1353.3 368.2 1359.7 380.8 1365.2C393.5 1370.7 422.2 1378.9 430.5 1381.6" fill="none" stroke="#A5A5A5" stroke-width="2.40" stroke-linejoin="round" stroke-linecap="round"/>
<path d="M110.4 1388.2 l4.4 4.4 l-4.4 4.4 l-4.4 -4.4z" fill="#A5A5A5"/>
<path d="M120.9 1360.8 l4.4 4.4 l-4.4 4.4 l-4.4 -4.4z" fill="#A5A5A5"/>
<path d="M132.7 1333.3 l4.4 4.4 l-4.4 4.4 l-4.4 -4.4z" fill="#A5A5A5"/>
<path d="M147.1 1305.9 l4.4 4.4 l-4.4 4.4 l-4.4 -4.4z" fill="#A5A5A5"/>
<path d="M161.6 1278.5 l4.4 4.4 l-4.4 4.4 l-4.4 -4.4z" fill="#A5A5A5"/>
<path d="M176.1 1251.1 l4.4 4.4 l-4.4 4.4 l-4.4 -4.4z" fill="#A5A5A5"/>
<path d="M193.1 1223.6 l4.4 4.4 l-4.4 4.4 l-4.4 -4.4z" fill="#A5A5A5"/>
<path d="M210.7 1207.2 l4.4 4.4 l-4.4 4.4 l-4.4 -4.4z" fill="#A5A5A5"/>
<path d="M228.1 1197.3 l4.4 4.4 l-4.4 4.4 l-4.4 -4.4z" fill="#A5A5A5"/>
<path d="M254.9 1207.2 l4.4 4.4 l-4.4 4.4 l-4.4 -4.4z" fill="#A5A5A5"/>
<path d="M268.9 1223.6 l4.4 4.4 l-4.4 4.4 l-4.4 -4.4z" fill="#A5A5A5"/>
<path d="M280.8 1240.7 l4.4 4.4 l-4.4 4.4 l-4.4 -4.4z" fill="#A5A5A5"/>
<path d="M285.9 1251.1 l4.4 4.4 l-4.4 4.4 l-4.4 -4.4z" fill="#A5A5A5"/>
<path d="M291.3 1267.5 l4.4 4.4 l-4.4 4.4 l-4.4 -4.4z" fill="#A5A5A5"/>
<path d="M296.7 1278.5 l4.4 4.4 l-4.4 4.4 l-4.4 -4.4z" fill="#A5A5A5"/>
<path d="M308.0 1305.9 l4.4 4.4 l-4.4 4.4 l-4.4 -4.4z" fill="#A5A5A5"/>
<path d="M323.9 1322.4 l4.4 4.4 l-4.4 4.4 l-4.4 -4.4z" fill="#A5A5A5"/>
<path d="M334.5 1333.3 l4.4 4.4 l-4.4 4.4 l-4.4 -4.4z" fill="#A5A5A5"/>
<path d="M354.5 1344.3 l4.4 4.4 l-4.4 4.4 l-4.4 -4.4z" fill="#A5A5A5"/>
<path d="M380.8 1360.8 l4.4 4.4 l-4.4 4.4 l-4.4 -4.4z" fill="#A5A5A5"/>
<path d="M430.5 1377.2 l4.4 4.4 l-4.4 4.4 l-4.4 -4.4z" fill="#A5A5A5"/>
<path d="M110.4 1392.6C112.6 1388.0 119.1 1374.3 123.5 1365.2C127.9 1356.0 131.9 1346.9 136.6 1337.8C141.4 1328.6 146.6 1319.5 151.9 1310.3C157.1 1301.2 162.2 1292.0 168.2 1282.9C174.2 1273.8 182.0 1262.8 187.9 1255.5C193.8 1248.2 199.0 1243.6 203.6 1239.0C208.2 1234.4 210.2 1232.1 215.5 1228.0C220.7 1224.0 226.8 1214.9 235.1 1214.9C243.5 1214.9 257.9 1222.2 265.4 1228.0C272.9 1233.9 276.3 1242.7 280.1 1250.0C284.0 1257.3 286.5 1266.4 288.6 1271.9C290.7 1277.4 290.5 1276.4 292.9 1282.9C295.4 1289.4 298.9 1303.6 303.2 1310.9C307.4 1318.2 313.4 1322.3 318.3 1326.8C323.2 1331.3 327.8 1334.1 332.7 1337.8C337.5 1341.4 340.4 1344.1 347.2 1348.7C354.0 1353.4 360.7 1360.2 373.5 1365.7C386.2 1371.2 415.4 1379.0 423.8 1381.6" fill="none" stroke="#FFC000" stroke-width="2.40" stroke-linejoin="round" stroke-linecap="round"/>
<path d="M110.4 1388.3 l4.3 8.6 h-8.6z" fill="#FFC000"/>
<path d="M123.5 1360.9 l4.3 8.6 h-8.6z" fill="#FFC000"/>
<path d="M136.6 1333.4 l4.3 8.6 h-8.6z" fill="#FFC000"/>
<path d="M151.9 1306.0 l4.3 8.6 h-8.6z" fill="#FFC000"/>
<path d="M168.2 1278.6 l4.3 8.6 h-8.6z" fill="#FFC000"/>
<path d="M187.9 1251.2 l4.3 8.6 h-8.6z" fill="#FFC000"/>
<path d="M203.6 1234.7 l4.3 8.6 h-8.6z" fill="#FFC000"/>
<path d="M215.5 1223.7 l4.3 8.6 h-8.6z" fill="#FFC000"/>
<path d="M235.1 1210.6 l4.3 8.6 h-8.6z" fill="#FFC000"/>
<path d="M265.4 1223.7 l4.3 8.6 h-8.6z" fill="#FFC000"/>
<path d="M280.1 1245.7 l4.3 8.6 h-8.6z" fill="#FFC000"/>
<path d="M288.6 1267.6 l4.3 8.6 h-8.6z" fill="#FFC000"/>
<path d="M292.9 1278.6 l4.3 8.6 h-8.6z" fill="#FFC000"/>
<path d="M303.2 1306.6 l4.3 8.6 h-8.6z" fill="#FFC000"/>
<path d="M318.3 1322.5 l4.3 8.6 h-8.6z" fill="#FFC000"/>
<path d="M332.7 1333.4 l4.3 8.6 h-8.6z" fill="#FFC000"/>
<path d="M347.2 1344.4 l4.3 8.6 h-8.6z" fill="#FFC000"/>
<path d="M373.5 1361.4 l4.3 8.6 h-8.6z" fill="#FFC000"/>
<path d="M423.8 1377.3 l4.3 8.6 h-8.6z" fill="#FFC000"/>
<path d="M110.4 1392.6C112.9 1388.0 120.8 1374.3 125.5 1365.2C130.2 1356.0 134.1 1346.9 138.8 1337.8C143.4 1328.6 148.4 1319.5 153.7 1310.3C159.0 1301.2 166.4 1289.3 170.3 1282.9C174.3 1276.5 175.1 1275.6 177.4 1271.9C179.6 1268.3 181.1 1264.6 183.9 1261.0C186.7 1257.3 190.6 1253.6 194.4 1250.0C198.2 1246.3 201.8 1242.7 206.8 1239.0C211.8 1235.4 219.4 1230.6 224.7 1228.0C230.0 1225.5 231.8 1223.7 238.6 1223.7C245.4 1223.7 259.6 1225.5 265.4 1228.0C271.2 1230.6 270.9 1235.4 273.5 1239.0C276.1 1242.7 278.4 1246.3 280.8 1250.0C283.3 1253.6 286.2 1257.3 288.2 1261.0C290.1 1264.6 291.0 1268.3 292.6 1271.9C294.3 1275.6 295.4 1276.5 297.9 1282.9C300.4 1289.3 304.2 1303.0 307.7 1310.3C311.2 1317.6 314.5 1322.2 318.8 1326.8C323.1 1331.4 327.2 1334.1 333.5 1337.8C339.9 1341.4 347.3 1344.1 356.9 1348.7C366.5 1353.3 376.6 1359.7 391.1 1365.2C405.5 1370.7 434.8 1378.9 443.6 1381.6" fill="none" stroke="#5B9BD5" stroke-width="2.40" stroke-linejoin="round" stroke-linecap="round"/>
<circle cx="110.4" cy="1392.6" r="4.0" fill="#5B9BD5"/>
<circle cx="125.5" cy="1365.2" r="4.0" fill="#5B9BD5"/>
<circle cx="138.8" cy="1337.8" r="4.0" fill="#5B9BD5"/>
<circle cx="153.7" cy="1310.3" r="4.0" fill="#5B9BD5"/>
<circle cx="170.3" cy="1282.9" r="4.0" fill="#5B9BD5"/>
<circle cx="177.4" cy="1271.9" r="4.0" fill="#5B9BD5"/>
<circle cx="183.9" cy="1261.0" r="4.0" fill="#5B9BD5"/>
<circle cx="194.4" cy="1250.0" r="4.0" fill="#5B9BD5"/>
<circle cx="206.8" cy="1239.0" r="4.0" fill="#5B9BD5"/>
<circle cx="224.7" cy="1228.0" r="4.0" fill="#5B9BD5"/>
<circle cx="238.6" cy="1223.7" r="4.0" fill="#5B9BD5"/>
<circle cx="265.4" cy="1228.0" r="4.0" fill="#5B9BD5"/>
<circle cx="273.5" cy="1239.0" r="4.0" fill="#5B9BD5"/>
<circle cx="280.8" cy="1250.0" r="4.0" fill="#5B9BD5"/>
<circle cx="288.2" cy="1261.0" r="4.0" fill="#5B9BD5"/>
<circle cx="292.6" cy="1271.9" r="4.0" fill="#5B9BD5"/>
<circle cx="297.9" cy="1282.9" r="4.0" fill="#5B9BD5"/>
<circle cx="307.7" cy="1310.3" r="4.0" fill="#5B9BD5"/>
<circle cx="318.8" cy="1326.8" r="4.0" fill="#5B9BD5"/>
<circle cx="333.5" cy="1337.8" r="4.0" fill="#5B9BD5"/>
<circle cx="356.9" cy="1348.7" r="4.0" fill="#5B9BD5"/>
<circle cx="391.1" cy="1365.2" r="4.0" fill="#5B9BD5"/>
<circle cx="443.6" cy="1381.6" r="4.0" fill="#5B9BD5"/>
<g font-size="19.5" text-anchor="end">
<text x="93.9" y="1399.0">0.0</text>
<text x="93.9" y="1344.2">0.5</text>
<text x="93.9" y="1289.3">1.0</text>
<text x="93.9" y="1234.5">1.5</text>
<text x="93.9" y="1179.6">2.0</text>
<text x="93.9" y="1124.8">2.5</text>
<text x="93.9" y="1069.9">3.0</text>
</g>
<g font-size="19.5" text-anchor="middle">
<text x="110.4" y="1421.6">0.0</text>
<text x="164.4" y="1421.6">0.1</text>
<text x="218.4" y="1421.6">0.2</text>
<text x="272.4" y="1421.6">0.3</text>
<text x="326.4" y="1421.6">0.4</text>
<text x="380.4" y="1421.6">0.5</text>
<text x="434.4" y="1421.6">0.6</text>
<text x="488.4" y="1421.6">0.7</text>
<text x="542.4" y="1421.6">0.8</text>
<text x="596.4" y="1421.6">0.9</text>
<text x="650.4" y="1421.6">1.0</text>
</g>
<text x="369.5" y="1452.3" font-size="19.5" text-anchor="middle">Deflection in mm</text>
<text transform="translate(27.7 1266.8) rotate(-90)" font-size="19.5" text-anchor="middle">load in kN</text>
<rect x="129.3" y="1045.3" width="193.6" height="32.4" fill="#fff" stroke="#000" stroke-width="1.6"/>
<text x="226.1" y="1069.7" font-size="23.4" text-anchor="middle">Mode I, a/d = 0.30</text>
<path d="M477.4 1067.0H532.0" stroke="#4472C4" stroke-width="2.60" stroke-linecap="round" stroke-dasharray="5.8 4.95"/>
<text x="537.3" y="1073.4" font-size="19.5">0% RFA</text>
<path d="M477.3 1094.3H532.1" stroke="#ED7D31" stroke-width="2.40" stroke-linecap="round"/>
<rect x="500.7" y="1090.3" width="8.0" height="8.0" fill="#ED7D31"/>
<text x="537.3" y="1100.7" font-size="19.5">10% RFA</text>
<path d="M477.3 1122.3H532.1" stroke="#A5A5A5" stroke-width="2.40" stroke-linecap="round"/>
<path d="M504.7 1117.9 l4.4 4.4 l-4.4 4.4 l-4.4 -4.4z" fill="#A5A5A5"/>
<text x="537.3" y="1128.7" font-size="19.5">20% RFA</text>
<path d="M477.3 1149.7H532.1" stroke="#FFC000" stroke-width="2.40" stroke-linecap="round"/>
<path d="M504.7 1145.4 l4.3 8.6 h-8.6z" fill="#FFC000"/>
<text x="537.3" y="1156.1" font-size="19.5">30% RFA</text>
<path d="M477.3 1177.4H532.1" stroke="#5B9BD5" stroke-width="2.40" stroke-linecap="round"/>
<circle cx="504.7" cy="1177.4" r="4.0" fill="#5B9BD5"/>
<text x="537.3" y="1183.8" font-size="19.5">40% RFA</text>
<text x="357.0" y="1505.0" font-size="29.4" style="font-weight:normal" text-anchor="middle">(c)</text>
</g>
</svg></body></html>
